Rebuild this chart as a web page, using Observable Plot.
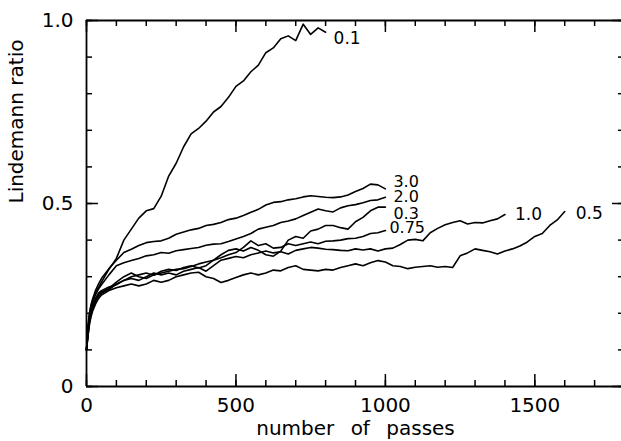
<!DOCTYPE html>
<html>
<head>
<meta charset="utf-8">
<script src="https://cdn.jsdelivr.net/npm/d3@7"></script>
<script src="https://cdn.jsdelivr.net/npm/@observablehq/plot@0.6"></script>
<style>
  html, body { margin: 0; padding: 0; background: #fff; }
  #chart svg { display: block; }
</style>
</head>
<body>
<div id="chart"></div>
<script>
// ---- data ----
const passes = [0, 5, 10, 15, 20, 30, 40, 50,
  75, 100, 125, 150, 175, 200, 225, 250, 275, 300,
  325, 350, 375, 400, 425, 450, 475, 500, 525, 550,
  575, 600, 625, 650, 675, 700, 725, 750, 775, 800,
  825, 850, 875, 900, 925, 950, 975, 1000, 1025, 1050,
  1075, 1100, 1125, 1150, 1175, 1200, 1225, 1250, 1275, 1300,
  1325, 1350, 1375, 1400, 1425, 1450, 1475, 1500, 1525, 1550,
  1575, 1600];

const seriesNames = ["0.1", "3.0", "2.0", "0.3", "0.75", "1.0", "0.5"];

const ratio_0_1 = [0.10, 0.16, 0.20, 0.22, 0.235, 0.255, 0.27, 0.285,
  0.32, 0.35, 0.40, 0.43, 0.46, 0.48, 0.486, 0.52, 0.575, 0.61,
  0.655, 0.69, 0.705, 0.725, 0.75, 0.765, 0.79, 0.82, 0.835, 0.86,
  0.878, 0.912, 0.925, 0.95, 0.958, 0.945, 0.99, 0.962, 0.98, 0.968];

const ratio_3_0 = [0.10, 0.165, 0.20, 0.222, 0.238, 0.262, 0.28, 0.295,
  0.322, 0.345, 0.366, 0.375, 0.385, 0.393, 0.396, 0.398, 0.405, 0.416,
  0.422, 0.428, 0.432, 0.44, 0.443, 0.448, 0.456, 0.46, 0.467, 0.476,
  0.484, 0.496, 0.503, 0.505, 0.51, 0.513, 0.518, 0.521, 0.519, 0.517,
  0.516, 0.518, 0.523, 0.533, 0.541, 0.553, 0.551, 0.54];

const ratio_2_0 = [0.10, 0.155, 0.19, 0.212, 0.228, 0.25, 0.266, 0.278,
  0.305, 0.33, 0.338, 0.344, 0.35, 0.357, 0.36, 0.366, 0.364, 0.371,
  0.374, 0.377, 0.38, 0.386, 0.389, 0.39, 0.396, 0.403, 0.41, 0.418,
  0.43, 0.435, 0.44, 0.448, 0.452, 0.458, 0.467, 0.476, 0.485, 0.48,
  0.477, 0.488, 0.494, 0.497, 0.502, 0.508, 0.51, 0.517];

const ratio_0_3 = [0.10, 0.15, 0.185, 0.205, 0.22, 0.24, 0.255, 0.262,
  0.272, 0.278, 0.29, 0.30, 0.305, 0.31, 0.304, 0.315, 0.32, 0.317,
  0.325, 0.33, 0.324, 0.33, 0.345, 0.36, 0.372, 0.376, 0.37, 0.38,
  0.372, 0.36, 0.356, 0.37, 0.40, 0.41, 0.405, 0.425, 0.43, 0.44,
  0.44, 0.434, 0.43, 0.45, 0.462, 0.48, 0.49, 0.49];

const ratio_0_75 = [0.10, 0.14, 0.18, 0.20, 0.215, 0.235, 0.25, 0.258,
  0.268, 0.285, 0.30, 0.31, 0.30, 0.295, 0.305, 0.31, 0.315, 0.32,
  0.322, 0.328, 0.335, 0.34, 0.345, 0.352, 0.36, 0.366, 0.38, 0.398,
  0.385, 0.39, 0.378, 0.38, 0.39, 0.385, 0.39, 0.395, 0.39, 0.397,
  0.398, 0.40, 0.404, 0.405, 0.41, 0.418, 0.42, 0.426];

const ratio_1_0 = [0.10, 0.14, 0.175, 0.195, 0.21, 0.232, 0.245, 0.255,
  0.265, 0.28, 0.29, 0.295, 0.29, 0.30, 0.31, 0.305, 0.31, 0.305,
  0.315, 0.32, 0.325, 0.315, 0.33, 0.345, 0.35, 0.355, 0.352, 0.36,
  0.365, 0.37, 0.365, 0.368, 0.362, 0.372, 0.376, 0.38, 0.378, 0.375,
  0.374, 0.372, 0.371, 0.376, 0.373, 0.376, 0.37, 0.376, 0.378, 0.388,
  0.40, 0.402, 0.398, 0.42, 0.432, 0.442, 0.448, 0.453, 0.444, 0.448,
  0.447, 0.453, 0.458, 0.47];

const ratio_0_5 = [0.10, 0.14, 0.17, 0.19, 0.205, 0.225, 0.24, 0.25,
  0.262, 0.27, 0.275, 0.28, 0.275, 0.28, 0.29, 0.285, 0.29, 0.30,
  0.305, 0.31, 0.312, 0.30, 0.295, 0.284, 0.29, 0.298, 0.305, 0.31,
  0.305, 0.31, 0.318, 0.316, 0.325, 0.33, 0.32, 0.318, 0.316, 0.32,
  0.318, 0.325, 0.33, 0.335, 0.33, 0.338, 0.344, 0.34, 0.33, 0.328,
  0.322, 0.326, 0.328, 0.33, 0.326, 0.328, 0.325, 0.357, 0.365, 0.376,
  0.372, 0.368, 0.362, 0.37, 0.376, 0.384, 0.395, 0.41, 0.418, 0.44,
  0.455, 0.478];

const xTickMinor = [0, 100, 200, 300, 400, 500, 600, 700, 800, 900, 1000, 1100, 1200, 1300, 1400, 1500, 1600, 1700];
const xTickMajor = [0, 500, 1000, 1500];
const xTickLabels = ["0", "500", "1000", "1500"];
const yTickMinor = [0, 0.1, 0.2, 0.3, 0.4, 0.5, 0.6, 0.7, 0.8, 0.9, 1.0];
const yTickMajor = [0, 0.5, 1.0];
const yTickLabels = ["0", "0.5", "1.0"];
const xTitle = "number of passes";
const yTitle = "Lindemann ratio";

// ---- table built from the arrays ----
const seriesValues = [ratio_0_1, ratio_3_0, ratio_2_0, ratio_0_3, ratio_0_75, ratio_1_0, ratio_0_5];
const rows = [];
seriesNames.forEach((name, i) => {
  seriesValues[i].forEach((v, j) => rows.push({series: name, x: passes[j], y: v}));
});
const ends = seriesNames.map((name, i) => {
  const vals = seriesValues[i];
  return {series: name, x: passes[vals.length - 1], y: vals[vals.length - 1]};
});

// ---- layout / style ----
const W = 621, H = 441;
const mL = 86, mR = -3, mT = 20, mB = 55;
const xMax = 1800;
const plotW = W - mL - mR, plotH = H - mT - mB;
const vLen = px => px / plotH;          // vertical tick length in y units
const hLen = px => px * xMax / plotW;   // horizontal tick length in x units
const minor = 6, major = 12;
const labelOffsets = {
  "0.1": [8, 6, 17], "3.0": [8, -7, 16], "2.0": [8, 0, 16], "0.3": [8, 7, 16],
  "0.75": [4, -3, 16], "1.0": [10, 0, 17], "0.5": [11, 2, 17]
};
const axisW = 1.8;

const marks = [
  // frame lines
  Plot.ruleY([0, 1], {stroke: "#000", strokeWidth: axisW}),
  Plot.ruleX([0], {stroke: "#000", strokeWidth: axisW}),
  // bottom & top ticks (inward)
  Plot.ruleX(xTickMinor, {x: d => d, y1: 0, y2: vLen(minor), stroke: "#000", strokeWidth: 1.5}),
  Plot.ruleX(xTickMajor, {x: d => d, y1: 0, y2: vLen(major), stroke: "#000", strokeWidth: 1.5}),
  Plot.ruleX(xTickMinor, {x: d => d, y1: 1, y2: 1 - vLen(minor), stroke: "#000", strokeWidth: 1.5}),
  Plot.ruleX(xTickMajor, {x: d => d, y1: 1, y2: 1 - vLen(major), stroke: "#000", strokeWidth: 1.5}),
  // left & right ticks (inward)
  Plot.ruleY(yTickMinor, {y: d => d, x1: 0, x2: hLen(minor), stroke: "#000", strokeWidth: 1.5}),
  Plot.ruleY(yTickMajor, {y: d => d, x1: 0, x2: hLen(major), stroke: "#000", strokeWidth: 1.5}),
  Plot.ruleY(yTickMinor, {y: d => d, x1: xMax, x2: xMax - hLen(minor), stroke: "#000", strokeWidth: 1.5}),
  Plot.ruleY(yTickMajor, {y: d => d, x1: xMax, x2: xMax - hLen(major), stroke: "#000", strokeWidth: 1.5}),
  // tick labels
  Plot.text(xTickMajor, {x: d => d, y: 0, text: (d, i) => xTickLabels[i], dy: 19, fontSize: 20, fill: "#000"}),
  Plot.text(yTickMajor, {x: 0, y: d => d, text: (d, i) => yTickLabels[i], dx: -13, textAnchor: "end", fontSize: 20, fill: "#000"}),
  // axis titles
  Plot.text([xTitle], {frameAnchor: "bottom", text: d => d, dy: 48, fontSize: 20, fill: "#000"}),
  Plot.text([yTitle], {frameAnchor: "left", text: d => d, rotate: -90, dx: -70, fontSize: 20, fill: "#000"}),
  // curves
  Plot.line(rows, {x: "x", y: "y", z: "series", stroke: "#000", strokeWidth: 1.6, strokeLinejoin: "round"}),
];
// curve labels at the end of each curve
ends.forEach(e => {
  const [dx, dy, fs] = labelOffsets[e.series];
  marks.push(Plot.text([e], {x: "x", y: "y", text: "series", dx, dy, textAnchor: "start", fontSize: fs, fill: "#000"}));
});

const chart = Plot.plot({
  width: W, height: H,
  marginLeft: mL, marginRight: mR, marginTop: mT, marginBottom: mB,
  x: {domain: [0, xMax], axis: null},
  y: {domain: [0, 1], axis: null},
  style: {fontFamily: "'DejaVu Sans', sans-serif", background: "#fff", color: "#000", overflow: "visible"},
  marks
});
chart.querySelectorAll("text").forEach(t => {
  if (t.textContent === xTitle) t.setAttribute("word-spacing", "10");
});
document.getElementById("chart").appendChild(chart);
</script>
</body>
</html>
